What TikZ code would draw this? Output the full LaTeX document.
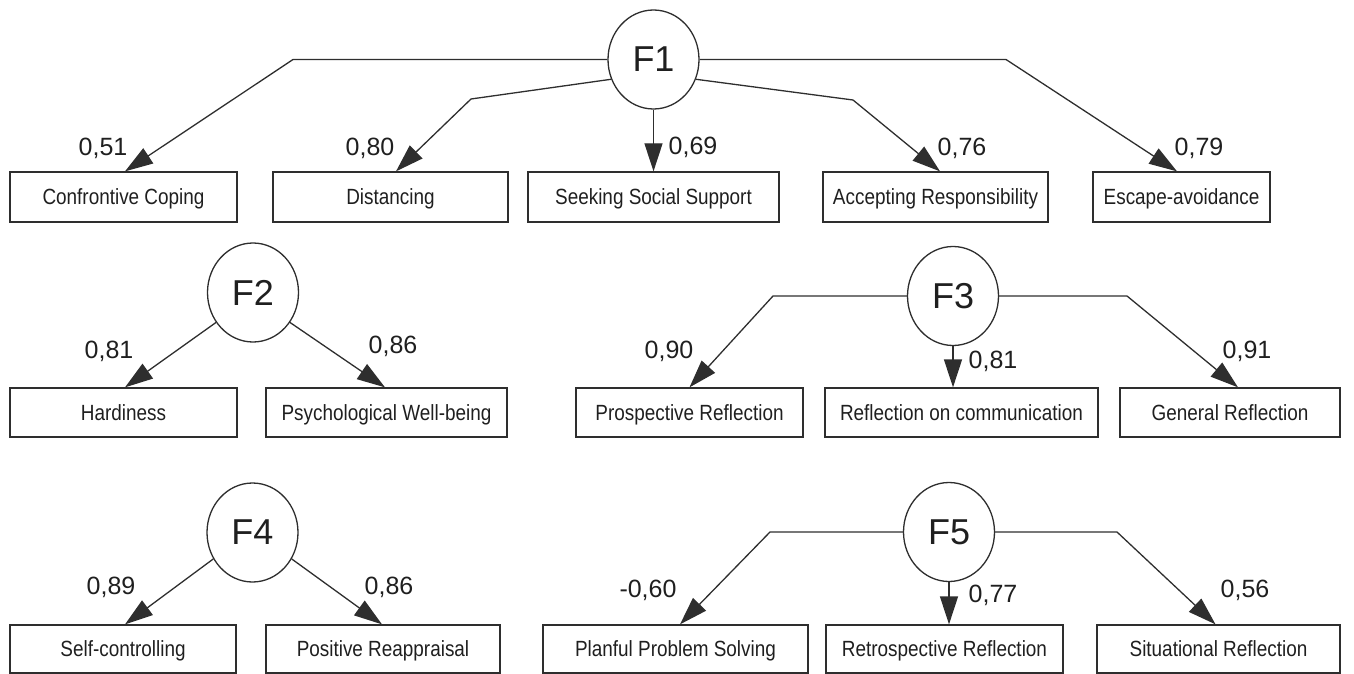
\documentclass[tikz,border=0pt]{standalone}
\usepackage{fontspec}
\setmainfont{Liberation Sans}
\newfontfamily\boxfont[FakeStretch=0.86]{Liberation Sans}
\usetikzlibrary{shapes.geometric,arrows.meta}
\begin{document}
\begin{tikzpicture}[x=1pt,y=-1pt,
  every node/.style={text=black!88},
  line/.style={draw=black!82, line width=1.3pt},
  box/.style={line, inner sep=0pt, text height=16pt, text depth=1pt, font=\boxfont\fontsize{22}{24}\selectfont},
  fac/.style={line, ellipse, minimum width=91pt, minimum height=99pt, inner sep=0pt, font=\fontsize{36}{38}\selectfont},
  lbl/.style={font=\fontsize{25}{27}\selectfont, inner sep=0pt},
  arr/.style={line, -{Triangle[length=28pt,width=18pt]}}]
\useasboundingbox (0,0) rectangle (1354,674);
% ---------- F1 ----------
\node[fac] (f1) at (653.5,59.5) {F1};
\node[box, minimum width=227pt, minimum height=50pt] (cc) at (123.5,197) {Confrontive Coping};
\node[box, minimum width=235pt, minimum height=50pt] (dist) at (390.5,197) {Distancing};
\node[box, minimum width=251pt, minimum height=50pt] (sss) at (653.5,197) {Seeking Social Support};
\node[box, minimum width=225pt, minimum height=50pt] (ar) at (935.5,197) {Accepting Responsibility};
\node[box, minimum width=177pt, minimum height=50pt] (ea) at (1181.5,197) {Escape-avoidance};
\coordinate (b11) at (293,59.5);
\coordinate (b12) at (471,99);
\coordinate (b14) at (853,100);
\coordinate (b15) at (1006,59.5);
\draw[arr] (f1.west) -- (b11) -- ([xshift=1.5pt]cc.north);
\draw[arr] (f1.205) -- (b12) -- ([xshift=5.5pt]dist.north);
\draw[arr] (f1.south) -- (f1.south |- sss.north);
\draw[arr] (f1.335) -- (b14) -- ([xshift=4.5pt]ar.north);
\draw[arr] (f1.east) -- (b15) -- ([xshift=-4.5pt]ea.north);
\node[lbl] (l11) at (103,148) {0,51};
\node[lbl] (l12) at (370,148) {0,80};
\node[lbl] (l13) at (693,147) {0,69};
\node[lbl] (l14) at (962,148) {0,76};
\node[lbl] (l15) at (1199,148) {0,79};
% ---------- F2 ----------
\node[fac] (f2) at (253,292.5) {F2};
\node[box, minimum width=227pt, minimum height=49pt] (hard) at (123.5,412.5) {Hardiness};
\node[box, minimum width=241pt, minimum height=49pt] (psy) at (386.5,412.5) {Psychological Well-being};
\draw[arr] (f2.219) -- ([xshift=1.5pt]hard.north);
\draw[arr] (f2.321) -- ([xshift=-1.5pt]psy.north);
\node[lbl] (l21) at (109,351) {0,81};
\node[lbl] (l22) at (393,346) {0,86};
% ---------- F3 ----------
\node[fac] (f3) at (953,296) {F3};
\node[box, minimum width=227pt, minimum height=49pt] (pr) at (689.5,412.5) {Prospective Reflection};
\node[box, minimum width=273pt, minimum height=49pt] (roc) at (961.5,412.5) {Reflection on communication};
\node[box, minimum width=220pt, minimum height=49pt] (gr) at (1230,412.5) {General Reflection};
\coordinate (b31) at (773,296);
\coordinate (b33) at (1127,296);
\draw[arr] (f3.west) -- (b31) -- (pr.north);
\draw[arr] (f3.south) -- (f3.south |- roc.north);
\draw[arr] (f3.east) -- (b33) -- ([xshift=8pt]gr.north);
\node[lbl] (l31) at (669,351) {0,90};
\node[lbl] (l32) at (993,361) {0,81};
\node[lbl] (l33) at (1247,351) {0,91};
% ---------- F4 ----------
\node[fac] (f4) at (252.5,532.5) {F4};
\node[box, minimum width=226pt, minimum height=48pt] (sc) at (123,649) {Self-controlling};
\node[box, minimum width=234pt, minimum height=48pt] (pra) at (383,649) {Positive Reappraisal};
\draw[arr] (f4.214) -- ([xshift=2pt]sc.north);
\draw[arr] (f4.326) -- ([xshift=-1pt]pra.north);
\node[lbl] (l41) at (111,587) {0,89};
\node[lbl] (l42) at (389,587) {0,86};
% ---------- F5 ----------
\node[fac] (f5) at (949,532) {F5};
\node[box, minimum width=265pt, minimum height=48pt] (pps) at (675.5,649) {Planful Problem Solving};
\node[box, minimum width=237pt, minimum height=48pt] (rr) at (944.5,649) {Retrospective Reflection};
\node[box, minimum width=243pt, minimum height=48pt] (sr) at (1218.5,649) {Situational Reflection};
\coordinate (b51) at (770,532);
\coordinate (b53) at (1117,532);
\draw[arr] (f5.west) -- (b51) -- ([xshift=4.5pt]pps.north);
\draw[arr] (f5.south) -- (f5.south |- rr.north);
\draw[arr] (f5.east) -- (b53) -- ([xshift=-3pt]sr.north);
\node[lbl] (l51) at (648,590) {-0,60};
\node[lbl] (l52) at (993,595) {0,77};
\node[lbl] (l53) at (1245,590) {0,56};
\end{tikzpicture}
\end{document}
